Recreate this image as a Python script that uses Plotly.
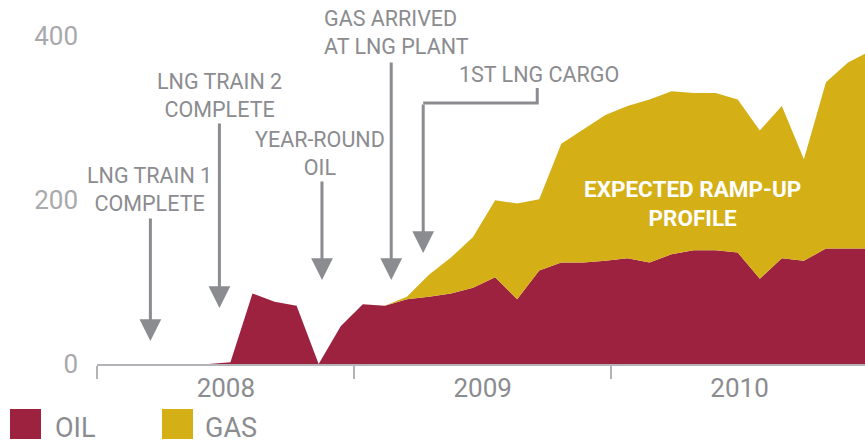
import plotly.graph_objects as go

# ---------------- data ----------------
oil = [0, 2, 86, 76, 71, 0, 46, 73, 71, 79, 82, 86, 93, 106, 79, 114, 124, 124,
       126, 129, 124, 134, 139, 139, 136, 104, 129, 126, 141, 141, 141]
gas = [0, 0, 0, 0, 0, 0, 0, 0, 0, 3, 27, 44, 62, 94, 117, 87, 145, 163,
       178, 186, 199, 199, 192, 192, 187, 181, 186, 124, 203, 227, 241]
periods = list(range(len(oil)))

years = ["2008", "2009", "2010"]
year_bounds = [-5.03, 6.615, 18.26]
year_len = 11.645
y_ticks = [0, 200, 400]

# ---------------- style ----------------
OIL_C = "#9D2240"
GAS_C = "#D4AF15"
GREY = "#8B8C90"
LIGHT = "#A8A9AC"
AXIS_C = "#B3B4B7"
FONT = "Roboto"

fig = go.Figure()
fig.add_trace(go.Scatter(x=periods, y=oil, name="OIL", stackgroup="one", mode="lines",
                         line=dict(width=0, color=OIL_C), fillcolor=OIL_C))
fig.add_trace(go.Scatter(x=periods, y=gas, name="GAS", stackgroup="one", mode="lines",
                         line=dict(width=0, color=GAS_C), fillcolor=GAS_C))

annotations = []
shapes = []

# event labels: text, text x, text y, anchor, arrow x, tail y, tip y
events = [
    ("LNG TRAIN 1<br>COMPLETE", -2.67, 212.5, "center", -2.63, 179.5, 28),
    ("LNG TRAIN 2<br>COMPLETE", 0.50, 328, "center", 0.50, 295.5, 68.4),
    ("YEAR-ROUND<br>OIL", 5.07, 257.6, "center", 5.15, 224.7, 102.6),
    ("GAS ARRIVED<br>AT LNG PLANT", 5.17, 404.2, "left", 8.29, 370, 102.6),
]
for txt, tx, ty, anc, axx, tail, tip in events:
    annotations.append(dict(x=tx, y=ty, xref="x", yref="y", text=txt, showarrow=False,
                            xanchor=anc, yanchor="middle", align=anc,
                            font=dict(family=FONT, size=21.5, color=GREY)))
    annotations.append(dict(x=axx, y=tip, ax=axx, ay=tail, xref="x", yref="y",
                            axref="x", ayref="y", text="", showarrow=True,
                            arrowhead=2, arrowsize=1.45, arrowwidth=3, arrowcolor=GREY))

# 1st LNG cargo with elbow connector
annotations.append(dict(x=14.97, y=352.9, xref="x", yref="y", text="1ST LNG CARGO",
                        showarrow=False, xanchor="center", yanchor="middle",
                        font=dict(family=FONT, size=21.5, color=GREY)))
shapes.append(dict(type="path", xref="x", yref="y",
                   path="M 14.91,337 L 14.91,318.7 L 9.74,318.7",
                   line=dict(color=GREY, width=3)))
annotations.append(dict(x=9.74, y=135.5, ax=9.74, ay=318.7, xref="x", yref="y",
                        axref="x", ayref="y", text="", showarrow=True,
                        arrowhead=2, arrowsize=1.45, arrowwidth=3, arrowcolor=GREY))

# inside label
annotations.append(dict(x=21.93, y=196, xref="x", yref="y",
                        text="<b>EXPECTED RAMP-UP<br>PROFILE</b>", showarrow=False,
                        xanchor="center", yanchor="middle", align="center",
                        font=dict(family=FONT, size=22.5, color="white")))

# manual legend (large square swatches)
for name, col, x0, x1, tx in [("OIL", OIL_C, -0.1133, -0.0729, -0.0573),
                              ("GAS", GAS_C, 0.0846, 0.125, 0.1380)]:
    shapes.append(dict(type="rect", xref="paper", yref="paper", x0=x0, x1=x1,
                       y0=-0.206, y1=-0.1236, fillcolor=col, line=dict(width=0)))
    annotations.append(dict(x=tx, y=-0.1758, xref="paper", yref="paper", text=name,
                            showarrow=False, xanchor="left", yanchor="middle",
                            font=dict(family=FONT, size=27, color=GREY)))

fig.update_layout(
    width=865, height=446,
    margin=dict(l=97, r=0, t=0, b=82),
    paper_bgcolor="white", plot_bgcolor="white",
    showlegend=False,
    font=dict(family=FONT, color=GREY),
    annotations=annotations, shapes=shapes,
    xaxis=dict(range=[-5.05, 29.77], showline=True, linecolor=AXIS_C, linewidth=2,
               tickmode="array", tickvals=[b + year_len / 2 for b in year_bounds],
               ticktext=years, ticks="", ticklabelstandoff=0,
               tickfont=dict(family=FONT, size=26, color=GREY),
               showgrid=False, zeroline=False,
               minor=dict(tickmode="array", tickvals=year_bounds, ticks="outside",
                          ticklen=13, tickwidth=2, tickcolor=AXIS_C, showgrid=False)),
    yaxis=dict(range=[0, 444.4], tickmode="array", tickvals=y_ticks, ticks="",
               ticklabelstandoff=18, showgrid=False, zeroline=False, showline=False,
               tickfont=dict(family=FONT, size=26, color=LIGHT)),
)

fig.write_html("out.html", config={"displayModeBar": False},
               post_script="document.body.style.margin='0';document.body.style.overflow='hidden';")
